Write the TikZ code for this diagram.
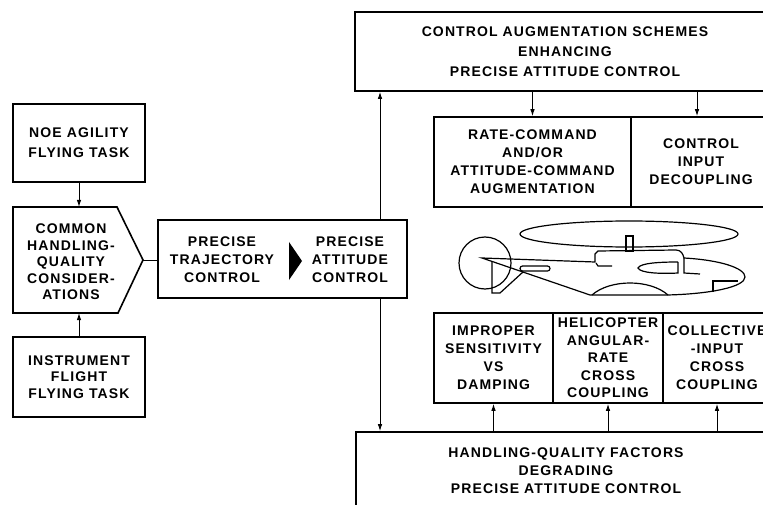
\documentclass[tikz,border=0pt]{standalone}
\usepackage{fontspec}
\newfontfamily\lblfont{Liberation Sans}[LetterSpace=8]
\usetikzlibrary{arrows.meta}
\begin{document}
\begin{tikzpicture}[x=1pt,y=-1pt,
    >={Latex[length=7pt,width=4.5pt]},
    every node/.style={font=\lblfont\bfseries\fontsize{14}{18}\selectfont},
    box/.style={draw,line width=1.6pt,inner sep=0pt,align=center},
    lbl/.style={inner sep=0pt,align=center},
    wide/.style={font=\lblfont\bfseries\fontsize{14}{20}\selectfont},
    tight/.style={font=\lblfont\bfseries\fontsize{14}{16.5}\selectfont}]
  \useasboundingbox (0,0) rectangle (763,505);
  % left column
  \node[box,wide,minimum width=132,minimum height=78] (noe) at (79,143) {NOE AGILITY\\FLYING TASK};
  \node[box,tight,minimum width=132,minimum height=80] (instr) at (79,377) {INSTRUMENT\\FLIGHT\\FLYING TASK};
  \node[lbl,tight] (common) at (71,262) {COMMON\\HANDLING-\\QUALITY\\CONSIDER-\\ATIONS};
  \draw[line width=1.6pt] (13,207) coordinate (cnw) -- (117,207) -- (143,260) coordinate (tip)
    -- (118,313) -- (13,313) coordinate (csw) -- cycle;
  \draw[->,line width=1pt] (noe.south) -- (noe.south |- cnw);
  \draw[->,line width=1pt] (instr.north) -- (instr.north |- csw);
  % precise control
  \node[box,minimum width=249,minimum height=78] (precise) at (282.5,259) {};
  \node[lbl] (traj) at (222,260) {PRECISE\\TRAJECTORY\\CONTROL};
  \node[lbl] (att) at (350,260) {PRECISE\\ATTITUDE\\CONTROL};
  \fill (289,242) -- (302,261) -- (289,280) -- cycle;
  \draw[line width=1pt] (tip) -- (tip -| precise.west);
  % right column
  \node[box,wide,minimum width=420,minimum height=79] (augment) at (565,51.5)
    {CONTROL AUGMENTATION SCHEMES\\ENHANCING\\PRECISE ATTITUDE CONTROL};
  \node[box,minimum width=197,minimum height=90] (ratecmd) at (532.5,162)
    {RATE-COMMAND\\AND/OR\\ATTITUDE-COMMAND\\AUGMENTATION};
  \node[box,minimum width=140,minimum height=90] (decoupl) at (701,162)
    {CONTROL\\INPUT\\DECOUPLING};
  \node[box,minimum width=119,minimum height=90] (improper) at (493.5,358)
    {IMPROPER\\SENSITIVITY\\VS\\DAMPING};
  \node[box,font=\lblfont\bfseries\fontsize{14}{17.5}\selectfont,minimum width=110,minimum height=90] (helicop) at (608,358)
    {HELICOPTER\\ANGULAR-\\RATE\\CROSS\\COUPLING};
  \node[box,minimum width=108,minimum height=90] (collect) at (717,358)
    {COLLECTIVE\\-INPUT\\CROSS\\COUPLING};
  \node[box,minimum width=420,minimum height=78] (degrade) at (566,471)
    {HANDLING-QUALITY FACTORS\\DEGRADING\\PRECISE ATTITUDE CONTROL};
  \draw[->,line width=1pt] (augment.south -| ratecmd.north) -- (ratecmd.north);
  \coordinate (dn) at ([xshift=-4pt]decoupl.north);
  \draw[->,line width=1pt] (augment.south -| dn) -- (dn);
  \draw[->,line width=1pt] (degrade.north -| improper.south) -- (improper.south);
  \draw[->,line width=1pt] (degrade.north -| helicop.south) -- (helicop.south);
  \draw[->,line width=1pt] (degrade.north -| collect.south) -- (collect.south);
  \draw[->,line width=1pt] ([xshift=97.5pt]precise.north) -- ([xshift=97.5pt]precise.north |- augment.south);
  \draw[->,line width=1pt] ([xshift=97.5pt]precise.south) -- ([xshift=97.5pt]precise.south |- degrade.north);
  % helicopter
  \begin{scope}[line width=1.2pt]
    \draw (629,234) ellipse [x radius=109, y radius=13];
    \draw (485,263) circle [radius=26];
    \draw (626,236) rectangle (633,251);
    \draw (482,258) -- (595,262) -- (595,254) -- (598,251) -- (676,250)
      .. controls (681,250) and (683,254) .. (684,258)
      .. controls (720,260) and (745,268) .. (745,277)
      .. controls (745,287) and (710,294) .. (667,295)
      -- (590,295) -- cycle;
    \draw (592,295) .. controls (610,279) and (650,279) .. (668,295);
    \draw (684,258) -- (684,273) -- (700,274);
    \draw (678,262) -- (678,273) .. controls (660,274) and (640,273) .. (638,268)
      .. controls (640,263) and (660,262) .. (678,262);
    \draw (713,292) -- (713,281) -- (738,281);
    \draw[rounded corners=2.5pt] (520,266) rectangle (550,271);
    \draw (492,261) -- (492,293) -- (500,293) -- (523,272);
    \draw (596,263) -- (598,266) -- (612,266);
  \end{scope}
\end{tikzpicture}
\end{document}
